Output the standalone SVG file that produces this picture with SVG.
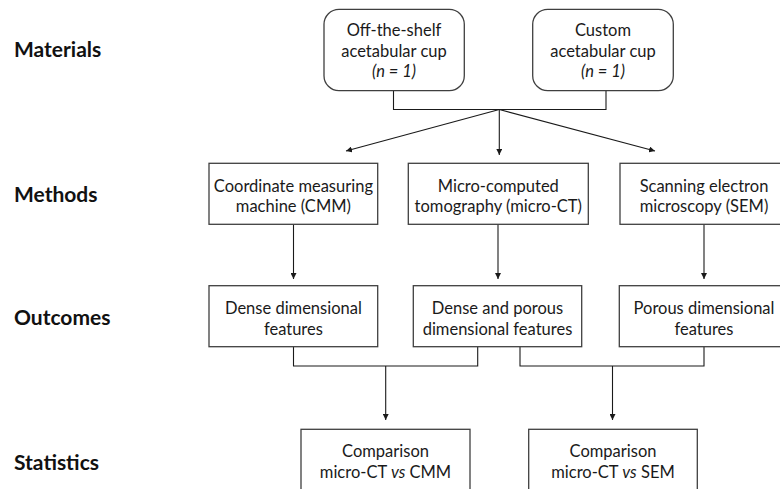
<svg xmlns="http://www.w3.org/2000/svg" width="780" height="489" viewBox="0 0 780 489">
  <style>
    .box { fill: #ffffff; stroke: #3f3f3f; stroke-width: 1.3; }
    .t { font-family: Lato, "Liberation Sans", Arial, sans-serif; font-size: 16.5px; fill: #1a1a1a; text-anchor: middle; }
    .lbl { font-family: Lato, "Liberation Sans", Arial, sans-serif; font-size: 21px; font-weight: bold; fill: #111111; }
    .ln { fill: none; stroke: #1a1a1a; stroke-width: 1.1; }
    .ar { fill: none; stroke: #1a1a1a; stroke-width: 1.1; marker-end: url(#ah); }
  </style>
  <defs>
    <marker id="ah" markerUnits="userSpaceOnUse" markerWidth="7" markerHeight="6" refX="6" refY="3" orient="auto">
      <path d="M0,0 L6,3 L0,6 z" fill="#1a1a1a"/>
    </marker>
  </defs>
  <rect x="0" y="0" width="780" height="489" fill="#ffffff"/>

  <g id="labels">
    <text class="lbl" x="14" y="57">Materials</text>
    <text class="lbl" x="14" y="202">Methods</text>
    <text class="lbl" x="14" y="325">Outcomes</text>
    <text class="lbl" x="14" y="470">Statistics</text>
  </g>

  <g id="connectors">
    <path class="ln" d="M393.5,90.7 V109.5 H606 V90.7"/>
    <path class="ar" d="M499.3,109.5 L346,151"/>
    <path class="ar" d="M499.3,109.5 L499.3,155"/>
    <path class="ar" d="M499.3,109.5 L655,151"/>
    <path class="ar" d="M293.5,224.3 V279"/>
    <path class="ar" d="M498,224.3 V279"/>
    <path class="ar" d="M704,224.3 V279"/>
    <path class="ln" d="M293.5,346.7 V366 H477.7 V346.7"/>
    <path class="ln" d="M520,346.7 V366 H704 V346.7"/>
    <path class="ar" d="M385.7,366 V420"/>
    <path class="ar" d="M612.5,366 V420"/>
  </g>

  <g id="mat-offshelf">
    <rect class="box" x="324" y="9.3" width="140.3" height="81.4" rx="15" ry="15"/>
    <text class="t" x="394" y="35.7">Off-the-shelf</text>
    <text class="t" x="394" y="56.5">acetabular cup</text>
    <text class="t" x="394" y="77" font-style="italic">(n = 1)</text>
  </g>
  <g id="mat-custom">
    <rect class="box" x="532.7" y="9.3" width="140.6" height="81.4" rx="15" ry="15"/>
    <text class="t" x="603" y="35.7">Custom</text>
    <text class="t" x="603" y="56.5">acetabular cup</text>
    <text class="t" x="603" y="77" font-style="italic">(n = 1)</text>
  </g>

  <g id="meth-cmm">
    <rect class="box" x="209" y="163.3" width="168.7" height="61"/>
    <text class="t" x="293.4" y="191.7">Coordinate measuring</text>
    <text class="t" x="293.4" y="212.3">machine (CMM)</text>
  </g>
  <g id="meth-microct">
    <rect class="box" x="408.3" y="163.3" width="180" height="61"/>
    <text class="t" x="498.3" y="191.7">Micro-computed</text>
    <text class="t" x="498.3" y="212.3">tomography (micro-CT)</text>
  </g>
  <g id="meth-sem">
    <rect class="box" x="620" y="163.3" width="168" height="61"/>
    <text class="t" x="704" y="191.7">Scanning electron</text>
    <text class="t" x="704" y="212.3">microscopy (SEM)</text>
  </g>

  <g id="out-dense">
    <rect class="box" x="209" y="285.7" width="168.7" height="61"/>
    <text class="t" x="293.4" y="314.3">Dense dimensional</text>
    <text class="t" x="293.4" y="334.6">features</text>
  </g>
  <g id="out-denseporous">
    <rect class="box" x="413.3" y="285.7" width="168.4" height="61"/>
    <text class="t" x="497.5" y="314.3">Dense and porous</text>
    <text class="t" x="497.5" y="334.6">dimensional features</text>
  </g>
  <g id="out-porous">
    <rect class="box" x="619.3" y="285.7" width="168.4" height="61"/>
    <text class="t" x="704" y="314.3">Porous dimensional</text>
    <text class="t" x="704" y="334.6">features</text>
  </g>

  <g id="stat-cmm">
    <rect class="box" x="301" y="429.3" width="169" height="70"/>
    <text class="t" x="385.5" y="456.7">Comparison</text>
    <text class="t" x="385.5" y="477.7">micro-CT <tspan font-style="italic">vs</tspan> CMM</text>
  </g>
  <g id="stat-sem">
    <rect class="box" x="528.7" y="429.3" width="168.6" height="70"/>
    <text class="t" x="613" y="456.7">Comparison</text>
    <text class="t" x="613" y="477.7">micro-CT <tspan font-style="italic">vs</tspan> SEM</text>
  </g>
</svg>
